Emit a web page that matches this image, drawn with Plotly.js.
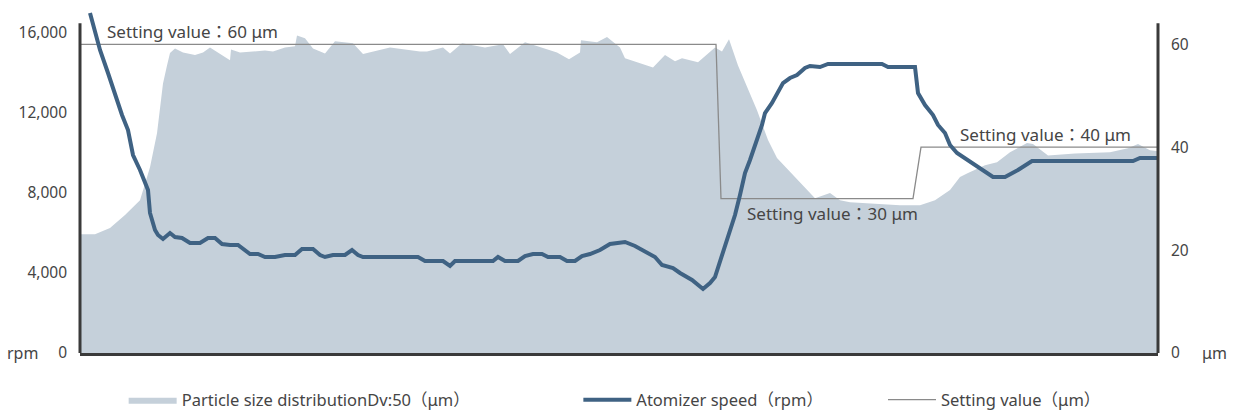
<!DOCTYPE html>
<html>
<head>
<meta charset="utf-8">
<script src="https://cdn.plot.ly/plotly-3.0.1.min.js"></script>
<style>
html,body{margin:0;padding:0;background:#fff;}
#chart{width:1233px;height:418px;}
</style>
</head>
<body>
<div id="chart"></div>
<script>
// ---- Data ----
// Particle size distribution Dv:50 (µm)
const dvTime = [0,15,30,45,60,70,77,83,87,90,95,103,115,123,130,142,150,151,160,185,193,205,215,217,225,233,245,255,273,283,310,340,347,363,370,382,405,423,430,445,460,477,489,500,501,517,527,540,545,573,585,595,602,618,635,642,649,658,677,688,697,720,735,750,760,770,800,820,840,855,870,880,888,905,917,930,947,953,968,995,1030,1048,1058,1070,1078];
const dvValue = [23.1,23.1,24.3,26.8,29.7,36.1,42.7,52.4,55.9,58.3,59.2,58.4,57.9,58.4,59.4,57.9,56.9,59.0,58.4,58.8,58.6,59.4,59.6,61.7,61.2,59.2,58.2,60.6,60.2,58.1,59.4,58.6,58.6,59.4,58.2,60.2,59.4,60.0,58.1,60.4,59.4,58.4,57.1,58.4,60.8,60.4,61.4,59.4,57.3,55.5,57.9,56.7,57.3,56.5,59.4,58.6,61.0,55.9,47.2,41.4,37.9,33.2,30.1,31.1,29.7,29.3,29.0,28.7,28.7,29.7,31.7,34.2,35.0,36.5,37.1,39.0,40.8,40.6,38.4,38.8,39.0,39.8,40.6,39.4,39.2];

// Atomizer speed (rpm)
const rpmTime = [10,15,20,28,35,42,48,53,60,68,70,75,78,83,90,95,102,110,120,128,135,142,150,158,170,178,185,195,205,215,222,233,240,245,253,265,272,278,283,338,345,363,370,375,413,418,425,438,445,453,462,468,480,487,495,502,510,520,530,545,555,567,575,582,593,600,612,623,630,635,642,650,655,660,665,670,677,682,685,692,703,710,717,725,730,740,748,802,808,835,838,845,853,858,865,870,877,888,900,913,925,938,952,1053,1060,1078];
const rpmValue = [17000,16000,15150,14000,12900,11900,11150,9900,9150,8150,7000,6150,5900,5700,6000,5800,5750,5500,5500,5750,5750,5450,5400,5400,4950,4950,4800,4800,4900,4900,5200,5200,4900,4800,4900,4900,5150,4900,4800,4800,4600,4600,4350,4600,4600,4800,4600,4600,4850,4950,4950,4800,4800,4600,4600,4850,4950,5150,5450,5550,5350,5050,4800,4400,4250,4000,3650,3200,3500,3800,4900,6000,6900,7900,9000,9650,10650,11400,12000,12500,13500,13750,13900,14250,14350,14300,14450,14450,14300,14300,13000,12400,11900,11400,11000,10400,10000,9650,9250,8800,8800,9150,9600,9600,9750,9750];
</script>
<script>
// Setting value (µm)
const setTime = [0,636,641,833,841,1078];
const setValue = [60,60,30,30,40,40];

// Tick labels
const rpmTicks = [0,4000,8000,12000,16000];
const umTicks = [0,20,40,60];

// Labels
const seriesNames = ['Particle size distributionDv:50（μm）','Atomizer speed（rpm）','Setting value（μm）'];
const settingLabels = ['Setting value：60 μm','Setting value：30 μm','Setting value：40 μm'];
const settingLabelPos = [[25,62.4],[665,27.2],[878,42.4]];

const FONT = 'Noto Sans, "Noto Sans CJK JP", sans-serif';
const TXT = '#454545';

const traces = [
  {
    x: dvTime, y: dvValue, name: seriesNames[0], type: 'scatter', mode: 'lines',
    fill: 'tozeroy', fillcolor: '#c5d0da', line: {width: 0, color: '#c5d0da'},
    yaxis: 'y', legend: 'legend', hoverinfo: 'skip'
  },
  {
    x: setTime, y: setValue, name: seriesNames[2], type: 'scatter', mode: 'lines',
    line: {width: 1.3, color: '#8a8a8a'}, yaxis: 'y', legend: 'legend3', hoverinfo: 'skip'
  },
  {
    x: rpmTime, y: rpmValue, name: seriesNames[1], type: 'scatter', mode: 'lines',
    line: {width: 4, color: '#3f6283'}, yaxis: 'y2', legend: 'legend2', hoverinfo: 'skip'
  }
];

const annotations = settingLabels.map((t, i) => ({
  text: t, x: settingLabelPos[i][0], y: settingLabelPos[i][1], xref: 'x', yref: 'y',
  xanchor: 'left', yanchor: 'middle', showarrow: false,
  font: {family: FONT, size: 17, color: TXT}
}));
annotations.push({text: 'rpm', xref: 'paper', yref: 'y', x: -0.053, y: 0, xanchor: 'center', yanchor: 'middle', showarrow: false, font: {family: FONT, size: 16, color: TXT}});
annotations.push({text: 'μm', xref: 'paper', yref: 'y', x: 1.052, y: 0, xanchor: 'center', yanchor: 'middle', showarrow: false, font: {family: FONT, size: 16, color: TXT}});

const legendBase = {orientation: 'h', yanchor: 'middle', y: -0.137, xanchor: 'left', bgcolor: 'rgba(0,0,0,0)', itemwidth: 48, font: {family: FONT, size: 16.5, color: TXT}};

const layout = {
  width: 1233, height: 418,
  margin: {l: 80, r: 75, t: 10, b: 65, autoexpand: false},
  paper_bgcolor: '#fff', plot_bgcolor: '#fff',
  showlegend: true,
  font: {family: FONT, size: 15, color: TXT},
  xaxis: {range: [0, 1078], showgrid: false, zeroline: false, showticklabels: false, ticks: '',
          showline: true, linewidth: 3, linecolor: '#3a3a3a', fixedrange: true},
  yaxis: {range: [0, 66.67], side: 'right', tickvals: umTicks, showgrid: false, zeroline: false, ticks: '',
          ticklabelstandoff: 12, tickfont: {family: FONT, size: 15.5, color: TXT}},
  yaxis2: {range: [0, 17150], side: 'left', overlaying: 'y', tickvals: rpmTicks, tickformat: ',',
           showgrid: false, zeroline: false, ticks: '', ticklabelstandoff: 12,
           tickfont: {family: FONT, size: 15.5, color: TXT}},
  legend: Object.assign({}, legendBase, {x: 0.0405}),
  legend2: Object.assign({}, legendBase, {x: 0.4623}),
  legend3: Object.assign({}, legendBase, {x: 0.7449}),
  shapes: [
    {type: 'line', xref: 'paper', yref: 'y', x0: 0, x1: 0, y0: 0, y1: 64.1, line: {width: 3, color: '#3a3a3a'}},
    {type: 'line', xref: 'paper', yref: 'y', x0: 1, x1: 1, y0: 0, y1: 64.1, line: {width: 3, color: '#3a3a3a'}}
  ],
  annotations: annotations
};

Plotly.newPlot('chart', traces, layout, {displayModeBar: false, staticPlot: true});
</script>
</body>
</html>
